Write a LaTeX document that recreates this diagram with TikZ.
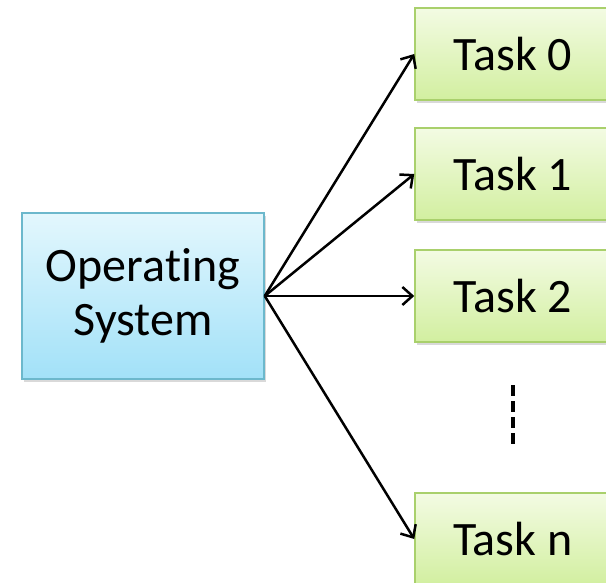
\documentclass[tikz,border=0pt]{standalone}
\usepackage{fontspec}
\setmainfont[Ligatures=NoCommon]{Carlito}
\usetikzlibrary{arrows.meta,shadows}
\definecolor{osTop}{HTML}{E3F7FD}
\definecolor{osBot}{HTML}{A2E1F8}
\definecolor{osLine}{HTML}{6CB8CC}
\definecolor{tkTop}{HTML}{F3FBE3}
\definecolor{tkBot}{HTML}{D2EFA0}
\definecolor{tkLine}{HTML}{A9D06C}
\tikzset{
  osbox/.style={draw=osLine, line width=1.5pt, top color=osTop, bottom color=osBot,
    minimum width=242pt, minimum height=166pt, inner sep=0pt, align=center,
    font=\fontsize{48}{54}\selectfont,
    drop shadow={shadow xshift=2pt, shadow yshift=-3pt, opacity=0.25, fill=black!60}},
  taskbox/.style={draw=tkLine, line width=1.5pt, top color=tkTop, bottom color=tkBot,
    minimum width=196pt, minimum height=92pt, inner sep=0pt,
    font=\fontsize{48}{55}\selectfont,
    drop shadow={shadow xshift=2pt, shadow yshift=-3pt, opacity=0.25, fill=black!60}},
  link/.style={line width=2.5pt, -{Straight Barb[length=10pt,width=18pt,line width=2.5pt]}}
}
\begin{document}
\begin{tikzpicture}[x=1pt,y=-1pt]
  \clip (0,0) rectangle (606,583);
  \node[osbox] (os) at (143,296) {Operating\\System};
  \node[taskbox] (t0) at (513,54) {Task 0};
  \node[taskbox] (t1) at (513,174) {Task 1};
  \node[taskbox] (t2) at (513,296) {Task 2};
  \node[taskbox] (tn) at (513,539) {Task n};
  \coordinate (hub) at (os.east);
  \draw[link] (hub) -- (t0.west);
  \draw[link] (hub) -- (t1.west);
  \draw[link] (hub) -- (t2.west);
  \draw[link] (hub) -- (tn.west);
  \coordinate (dotTop) at (513,385);
  \coordinate (dotBot) at (513,447);
  \draw[line width=3.5pt, dash pattern=on 11pt off 5pt] (dotTop) -- (dotBot);
\end{tikzpicture}
\end{document}
